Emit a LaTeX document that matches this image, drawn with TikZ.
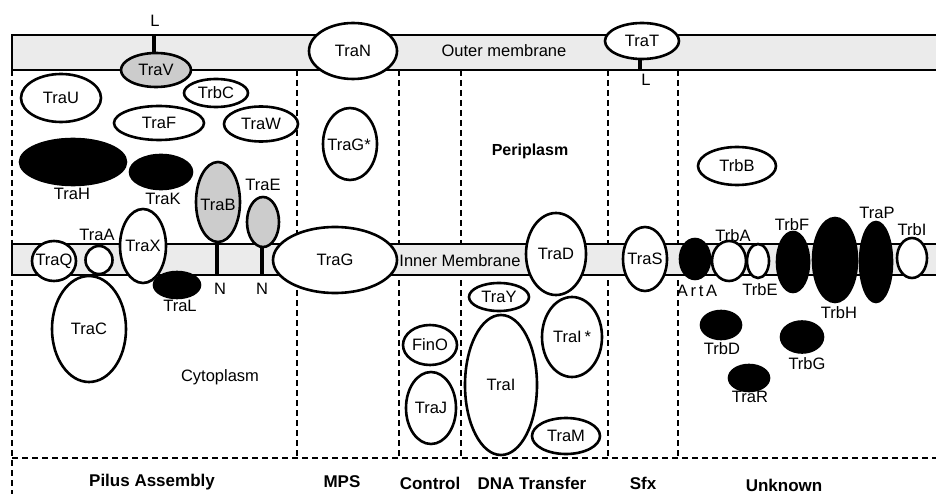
\documentclass[tikz,border=0pt]{standalone}
\usepackage{fontspec}
\setmainfont{Liberation Sans}
\usetikzlibrary{shapes.geometric}
\tikzset{
  prot/.style={ellipse, draw, line width=2.6pt, fill=white, inner sep=0pt},
  blk/.style={prot, fill=black},
  gry/.style={prot, fill=gray!40},
  sz/.style 2 args={minimum width=#1pt, minimum height=#2pt},
  lab/.style={font=\fontsize{16.5}{19}\selectfont, inner sep=0pt},
  blab/.style={font=\bfseries\fontsize{17}{20}\selectfont, inner sep=0pt},
  memb/.style={fill=gray!16, draw, line width=2.4pt},
  sep/.style={line width=2.4pt, dash pattern=on 6pt off 4pt},
  stem/.style={line width=4.5pt}
}
\begin{document}
\begin{tikzpicture}[x=1pt,y=-1pt]
\useasboundingbox (0,0) rectangle (936,494);
\clip (0,0) rectangle (936,494);
\fill[white] (0,0) rectangle (936,494);
% separators
\coordinate (s0t) at (12,70); \coordinate (s0b) at (12,494);
\draw[sep] (s0t) -- (s0b);
\foreach \x [count=\i] in {297,399,461,608,678}{
  \coordinate (st\i) at (\x,70); \coordinate (sb\i) at (\x,458);
  \draw[sep] (st\i) -- (sb\i);
}
\coordinate (hl) at (12,458); \coordinate (hr) at (936,458);
\draw[sep] (hl) -- (hr);
% membranes
\path[memb] (12,35) rectangle (950,70);
\path[memb] (12,244) rectangle (950,275);
\node[lab] (om) at (504,51) {Outer membrane};
\node[lab] (im) at (460,261) {Inner Membrane};
\node[blab,font=\bfseries\fontsize{16}{19}\selectfont] (peri) at (530,151) {Periplasm};
\node[lab] (cyto) at (220,377) {Cytoplasm};
% stems
\coordinate (Vtop) at (154,35);
\coordinate (Tbot) at (640,70);
\coordinate (Bbot) at (217,275);
\coordinate (Ebot) at (262,275);
\draw[stem] (Vtop) -- (154,60);
\draw[stem] (Tbot) -- (640,50);
\draw[stem] (Bbot) -- (217,230);
\draw[stem] (Ebot) -- (262,235);
\node[lab] (L1) at (155,21) {L};
\node[lab] (L2) at (646,80) {L};
\node[lab] (N1) at (220,289) {N};
\node[lab] (N2) at (262,289) {N};
% pilus assembly
\node[gry,sz={70}{34}] (TraV) at (156,70) {}; \node[lab] at (TraV) {TraV};
\node[prot,sz={80}{48}] (TraU) at (61,98) {}; \node[lab] at (TraU) {TraU};
\node[prot,sz={64}{28}] (TrbC) at (216,93) {}; \node[lab] at (TrbC) {TrbC};
\node[prot,sz={90}{34}] (TraF) at (159,123) {}; \node[lab] at (TraF) {TraF};
\node[prot,sz={74}{35}] (TraW) at (261,124) {}; \node[lab] at (TraW) {TraW};
\node[blk,sz={106}{46}] (TraH) at (73,162) {}; \node[lab] at (72,194) {TraH};
\node[blk,sz={62}{34}] (TraK) at (161,172) {}; \node[lab] at (163,199) {TraK};
\node[gry,sz={44}{80}] (TraB) at (218,202) {}; \node[lab] at (218,205) {TraB};
\node[gry,sz={32}{50}] (TraE) at (263,222) {}; \node[lab] at (263,185) {TraE};
\node[prot,sz={74}{106}] (TraC) at (89,329) {}; \node[lab] at (TraC) {TraC};
\node[prot,sz={44}{40}] (TraQ) at (54,261) {}; \node[lab] at (TraQ) {TraQ};
\node[prot,sz={27}{28}] (TraA) at (99,260) {}; \node[lab] at (97,235) {TraA};
\node[blk,sz={46}{26}] (TraL) at (177,285) {}; \node[lab] at (180,306) {TraL};
\node[prot,sz={46}{74}] (TraX) at (143,246) {}; \node[lab] at (TraX) {TraX};
% MPS
\node[prot,sz={124}{66}] (TraG) at (335,260) {}; \node[lab] at (TraG) {TraG};
\node[prot,sz={88}{56}] (TraN) at (353,51) {}; \node[lab] at (TraN) {TraN};
\node[prot,sz={54}{72}] (TraGs) at (350,144) {}; \node[lab] at (349,145) {TraG*};
% control / DNA transfer / Sfx
\node[prot,sz={74}{36}] (TraT) at (642,41) {}; \node[lab] at (TraT) {TraT};
\node[prot,sz={60}{80}] (TraIs) at (572,337) {}; \node[lab] at (TraIs) {TraI\,*};
\node[prot,sz={60}{82}] (TraD) at (556,254) {}; \node[lab] at (TraD) {TraD};
\node[prot,sz={44}{64}] (TraS) at (645,259) {}; \node[lab] at (TraS) {TraS};
\node[prot,sz={60}{28}] (TraY) at (499,297) {}; \node[lab] at (TraY) {TraY};
\node[prot,sz={54}{40}] (FinO) at (430,345) {}; \node[lab] at (FinO) {FinO};
\node[prot,sz={50}{72}] (TraJ) at (431,408) {}; \node[lab] at (TraJ) {TraJ};
\node[prot,sz={72}{140}] (TraI) at (501,385) {}; \node[lab] at (TraI) {TraI};
\node[prot,sz={68}{36}] (TraM) at (566,436) {}; \node[lab] at (TraM) {TraM};
% unknown
\node[prot,sz={78}{38}] (TrbB) at (737,166) {}; \node[lab] at (TrbB) {TrbB};
\node[blk,sz={30}{40}] (ArtA) at (695,259) {}; \node[lab] at (697,291) {A\,r\,t\,A};
\node[prot,sz={34}{40}] (TrbA) at (729,261) {}; \node[lab] at (733,236) {TrbA};
\node[prot,sz={22}{34}] (TrbE) at (758,261) {}; \node[lab] at (760,290) {TrbE};
\node[blk,sz={32}{60}] (TrbF) at (793,262) {}; \node[lab] at (792,225) {TrbF};
\node[blk,sz={44}{84}] (TrbH) at (835,260) {}; \node[lab] at (839,313) {TrbH};
\node[blk,sz={32}{80}] (TraP) at (876,262) {}; \node[lab] at (877,213) {TraP};
\node[prot,sz={30}{40}] (TrbI) at (912,258) {}; \node[lab] at (912,230) {TrbI};
\node[blk,sz={40}{28}] (TrbD) at (721,325) {}; \node[lab] at (722,349) {TrbD};
\node[blk,sz={42}{31}] (TrbG) at (802,337) {}; \node[lab] at (807,364) {TrbG};
\node[blk,sz={40}{26}] (TraR) at (749,378) {}; \node[lab] at (750,397) {TraR};
% bottom labels
\node[blab] (c1) at (152,482) {Pilus Assembly};
\node[blab] (c2) at (342,482) {MPS};
\node[blab] (c3) at (430,483) {Control};
\node[blab] (c4) at (532,483) {DNA Transfer};
\node[blab] (c5) at (643,483) {Sfx};
\node[blab] (c6) at (784,485) {Unknown};
\end{tikzpicture}
\end{document}
